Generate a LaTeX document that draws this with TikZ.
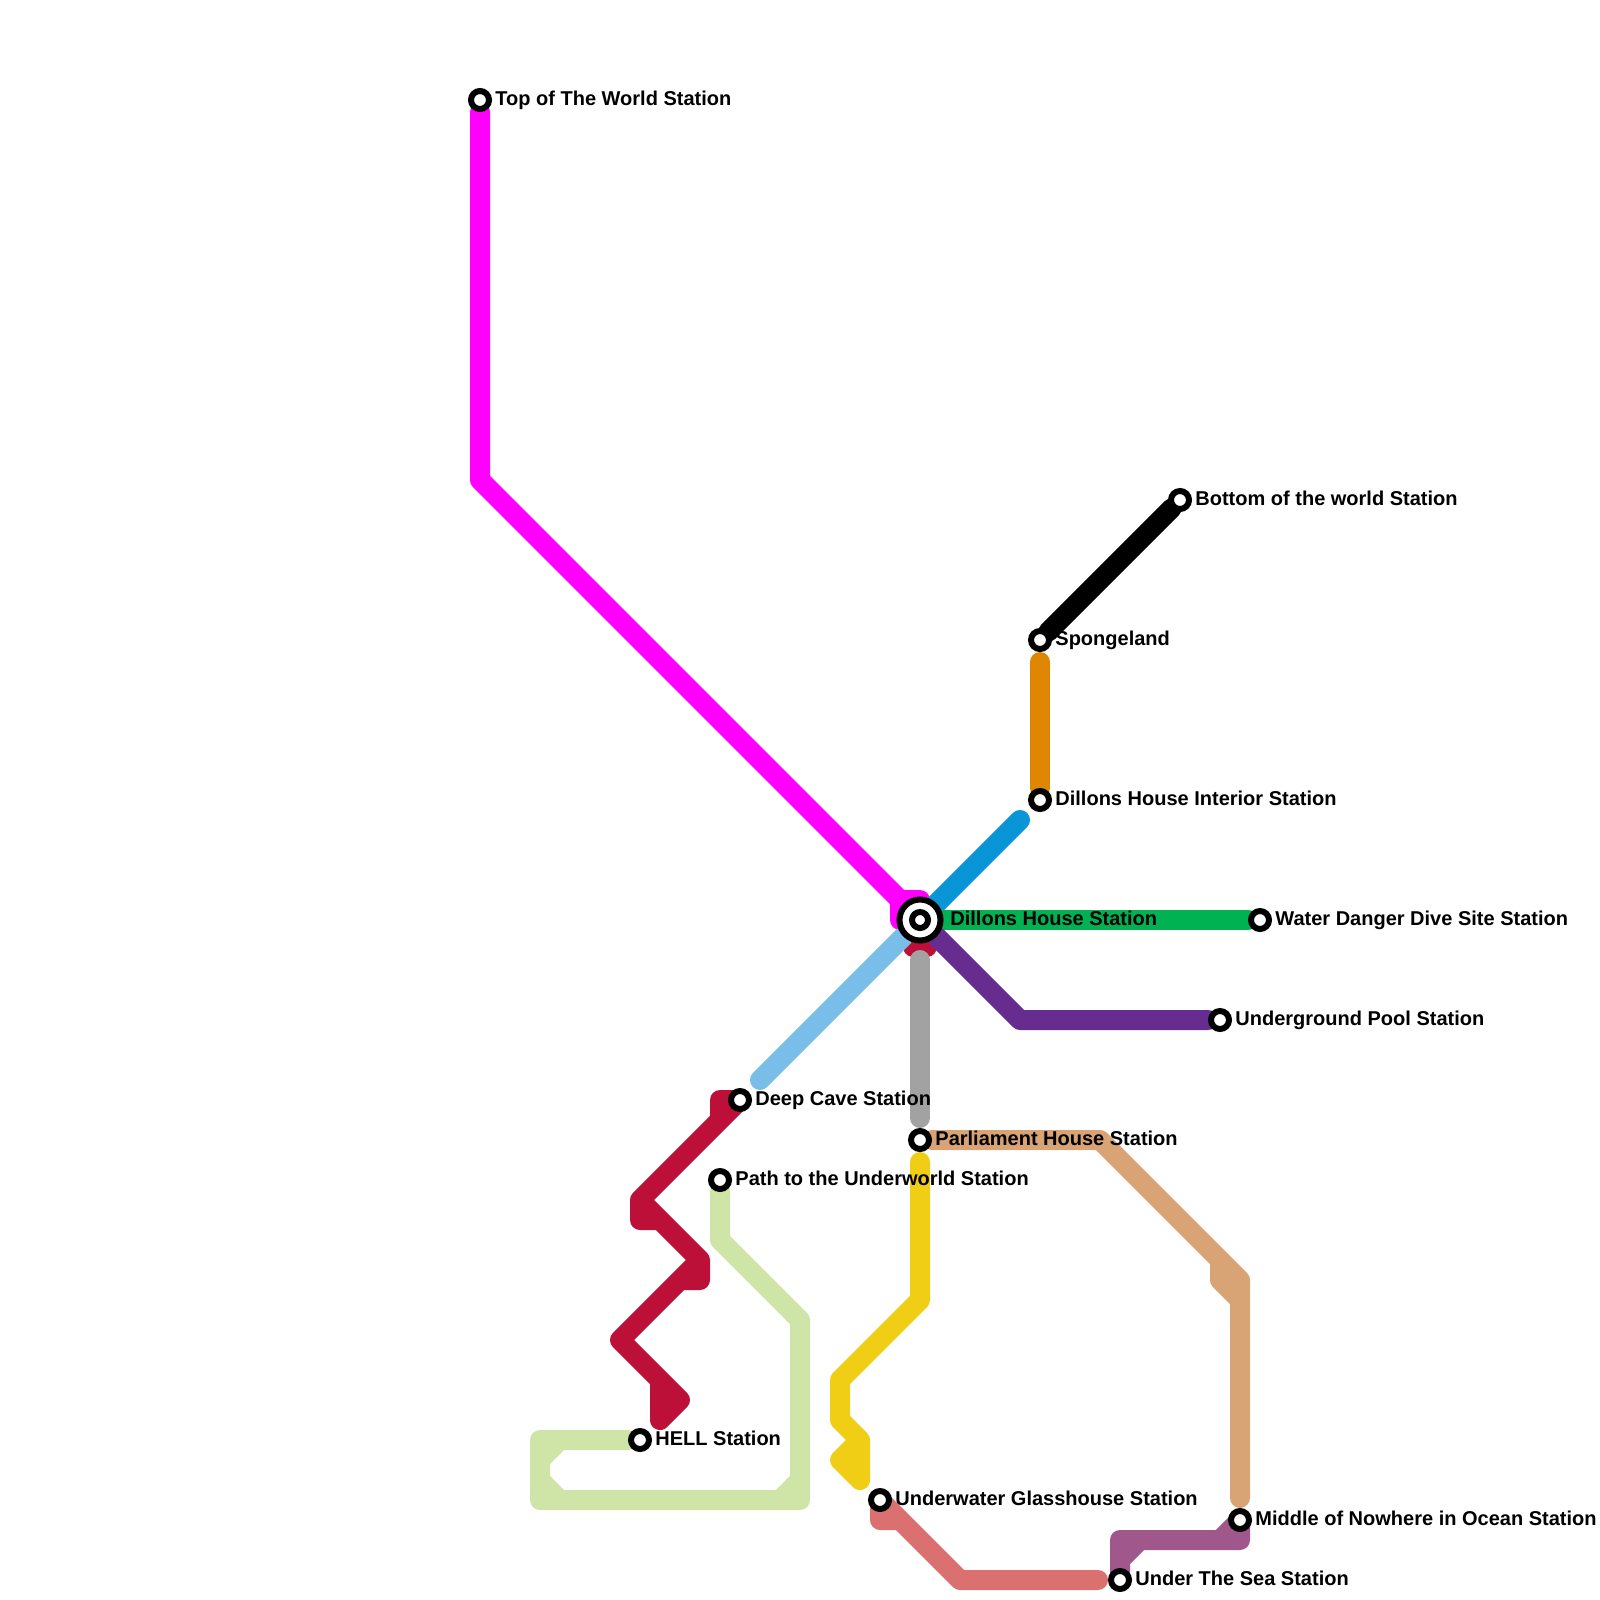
\documentclass[tikz,border=0pt]{standalone}
\usepackage{fontspec}
\setmainfont{Liberation Sans}
\usetikzlibrary{positioning}
\pgfdeclarelayer{background}
\pgfsetlayers{background,main}
\definecolor{linepink}{HTML}{FF00FF}
\definecolor{lineorange}{HTML}{DF8600}
\definecolor{lineblue}{HTML}{0896D7}
\definecolor{linesky}{HTML}{79BDE9}
\definecolor{linegreen}{HTML}{00B251}
\definecolor{linepurple}{HTML}{662C90}
\definecolor{linered}{HTML}{BD1038}
\definecolor{linegrey}{HTML}{A2A2A2}
\definecolor{linetan}{HTML}{D8A375}
\definecolor{lineyellow}{HTML}{F0CE15}
\definecolor{linelime}{HTML}{CFE4A7}
\definecolor{linesalmon}{HTML}{DB7070}
\definecolor{linemauve}{HTML}{A0588C}
\begin{document}
\begin{tikzpicture}[
    x=0.5pt, y=-0.5pt,
    station/.style={circle, draw=black, fill=white, line width=3pt, inner sep=0pt, minimum size=9pt},
    interchange/.style={circle, draw=black, fill=white, line width=3pt, inner sep=0pt, minimum size=20.5pt},
    name text/.style={font=\bfseries\fontsize{10}{12}\selectfont, inner sep=0pt, text=black, text height=7.3pt, text depth=2.1pt},
    line/.style={draw, line width=10pt, line cap=round, line join=round}
  ]
    \useasboundingbox (0,0) rectangle (1600,1600);

    \node [station] (top) at (480,100) {};
    \node [station] (bottom) at (1180,500) {};
    \node [station] (sponge) at (1040,640) {};
    \node [station] (interior) at (1040,800) {};
    \node [interchange] (dillons) at (920,920) {};
    \node [station, minimum size=8pt] (dillonsmid) at (dillons) {};
    \node [station] (water) at (1260,920) {};
    \node [station] (pool) at (1220,1020) {};
    \node [station] (cave) at (740,1100) {};
    \node [station] (parliament) at (920,1140) {};
    \node [station] (underworld) at (720,1180) {};
    \node [station] (hell) at (640,1440) {};
    \node [station] (glasshouse) at (880,1500) {};
    \node [station] (middle) at (1240,1520) {};
    \node [station] (sea) at (1120,1580) {};

    \node [name text, right=1.5pt of top] (toptext) {Top of The World Station};
    \node [name text, right=1.5pt of bottom] (bottomtext) {Bottom of the world Station};
    \node [name text, right=1.5pt of sponge] (spongetext) {Spongeland};
    \node [name text, right=1.5pt of interior] (interiortext) {Dillons House Interior Station};
    \node [name text, right=3.25pt of dillons] (dillonstext) {Dillons House Station};
    \node [name text, right=1.5pt of water] (watertext) {Water Danger Dive Site Station};
    \node [name text, right=1.5pt of pool] (pooltext) {Underground Pool Station};
    \node [name text, right=1.5pt of cave] (cavetext) {Deep Cave Station};
    \node [name text, right=1.5pt of parliament] (parliamenttext) {Parliament House Station};
    \node [name text, right=1.5pt of underworld] (underworldtext) {Path to the Underworld Station};
    \node [name text, right=1.5pt of hell] (helltext) {HELL Station};
    \node [name text, right=1.5pt of glasshouse] (glasshousetext) {Underwater Glasshouse Station};
    \node [name text, right=1.5pt of middle] (middletext) {Middle of Nowhere in Ocean Station};
    \node [name text, right=1.5pt of sea] (seatext) {Under The Sea Station};

    \coordinate (orangeend) at (1040,662);
    \coordinate (blueend) at (1020,820);
    \coordinate (skyend) at (760,1080);
    \coordinate (redleft) at (913,947);
    \coordinate (redright) at (927,947);
    \coordinate (greytop) at (920,960);
    \coordinate (greybottom) at (920,1118);
    \coordinate (tanend) at (1240,1498);
    \coordinate (yellowtop) at (920,1162);
    \coordinate (salmonend) at (1098,1580);

    \begin{pgfonlayer}{background}
    \path [line, linered] (dillons) -- (redleft) -- (redright) -- (dillons);
    \path [line, linered] (cave.center) -- (720,1100) -- (720,1120) -- (cave.center) -- (640,1200) -- (640,1220) -- (660,1220) -- (640,1200) -- (700,1260) -- (700,1280) -- (680,1280) -- (700,1260) -- (620,1340) -- (680,1400) -- (660,1420) -- (660,1380);
    \path [line, linepink] (top) -- (480,480) -- (900,900) -- (920,900) -- (dillons.center) -- (900,920) -- (900,900);
    \path [line, black] (sponge) -- (bottom);
    \path [line, lineorange] (orangeend) -- (interior);
    \path [line, lineblue] (dillons) -- (blueend);
    \path [line, linesky] (dillons) -- (skyend);
    \path [line, linegreen] (dillons) -- (water);
    \path [line, linepurple] (dillons) -- (1020,1020) -- (pool);
    \path [line, linegrey] (greytop) -- (greybottom);
    \path [line, linetan] (parliament) -- (1100,1140) -- (1240,1280) -- (1240,1300) -- (1220,1280) -- (1220,1260) -- (1240,1280) -- (tanend);
    \path [line, lineyellow] (yellowtop) -- (920,1300) -- (840,1380) -- (840,1420) -- (860,1440) -- (860,1480) -- (840,1460) -- (860,1440);
    \path [line, linelime] (underworld) -- (720,1240) -- (800,1320) -- (800,1500) -- (780,1500) -- (800,1480) -- (780,1500) -- (540,1500) -- (540,1480) -- (560,1500) -- (540,1480) -- (540,1460) -- (560,1440) -- (540,1460) -- (540,1440) -- (hell);
    \path [line, linesalmon] (glasshouse.center) -- (880,1520) -- (900,1520) -- (glasshouse.center) -- (960,1580) -- (salmonend);
    \path [line, linemauve] (sea.center) -- (1120,1560) -- (1140,1540) -- (1120,1560) -- (1120,1540) -- (1240,1540) -- (middle.center) -- (1220,1540);
    \end{pgfonlayer}
  \end{tikzpicture}
\end{document}
